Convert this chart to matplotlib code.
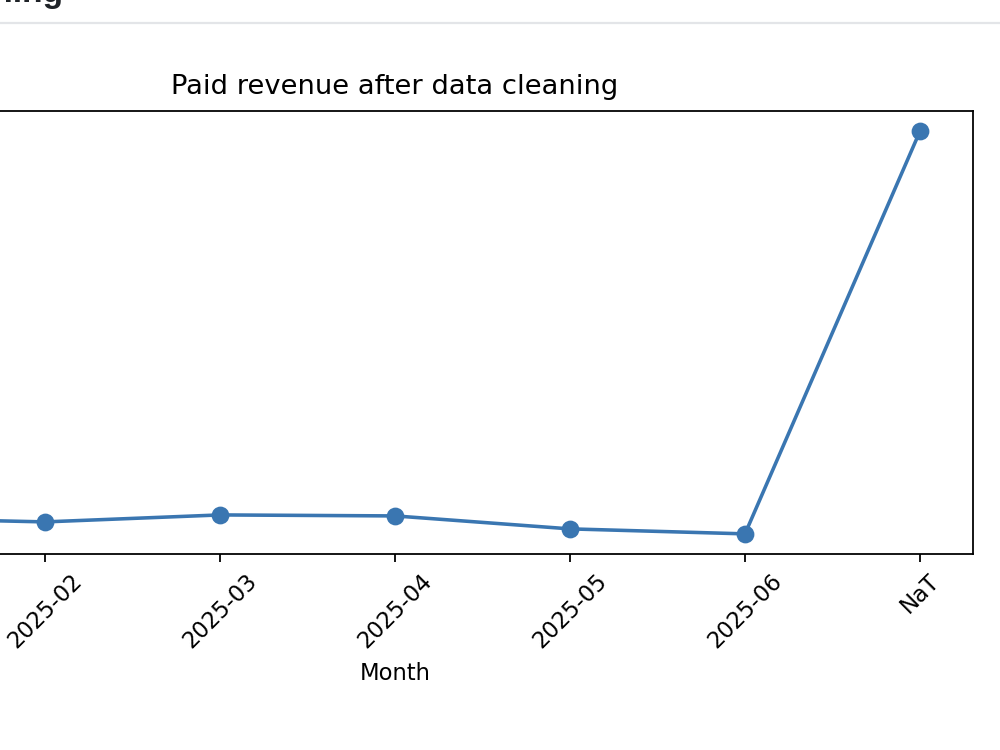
import matplotlib.pyplot as plt
from matplotlib.lines import Line2D

# data (paid revenue per month, NaT = rows without a valid date)
months = ["2025-01", "2025-02", "2025-03", "2025-04", "2025-05", "2025-06", "NaT"]
revenue = [16000, 15000, 16750, 16500, 13250, 12000, 113000]

line_color = "#3a76b1"

# screenshot-like scale: default sizes at ~160 dpi
fig = plt.figure(figsize=(6.25, 4.6875), dpi=160)

# notebook header, mostly cut off at the top
fig.text(63 / 1000, 1 - 2 / 750, "Data Cleaning", ha="right", va="baseline",
         fontsize=15, fontweight="bold", color="#1f2328", family="Liberation Sans")
fig.add_artist(Line2D([0, 1], [1 - 22.5 / 750, 1 - 22.5 / 750],
                      transform=fig.transFigure, color="#e3e5e8", lw=1.0))

# axes runs off the left edge like the cropped reference
ax = fig.add_axes([-182.5 / 1000, (750 - 554) / 750, 1155 / 1000, 443 / 750])
ax.plot(months, revenue, marker="o", color=line_color, lw=1.6, ms=7)
ax.set_title("Paid revenue after data cleaning", fontsize=12.35, pad=7.6)
ax.set_xlabel("Month", fontsize=10.2)
ax.tick_params(axis="x", labelrotation=45, labelsize=10.2)
ax.tick_params(axis="y", labelsize=10.2)

fig.savefig("out.png", dpi=160)
